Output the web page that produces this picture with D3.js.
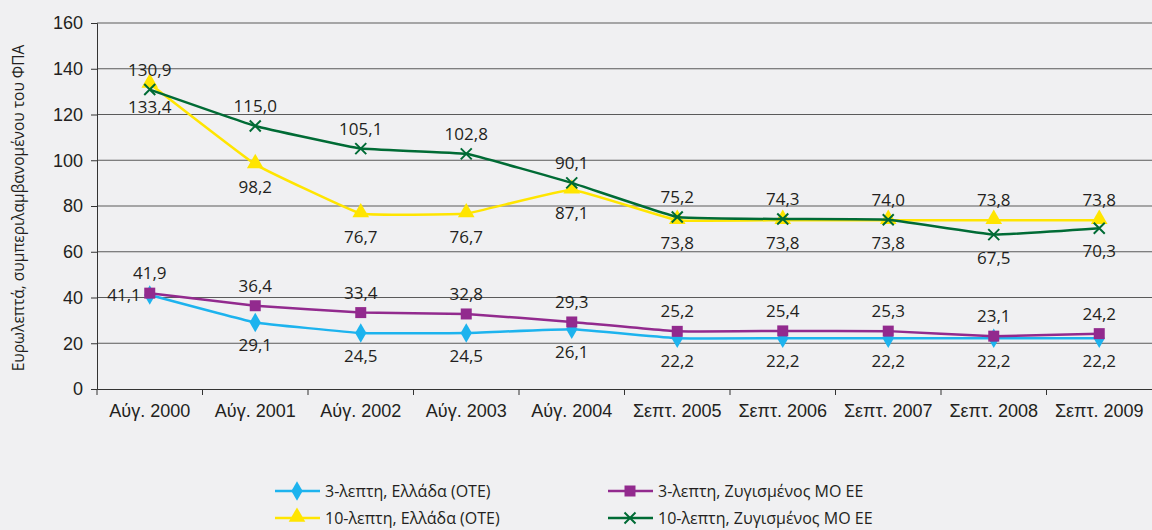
<!DOCTYPE html>
<html>
<head>
<meta charset="utf-8">
<script src="https://cdn.jsdelivr.net/npm/d3@7/dist/d3.min.js"></script>
<style>
  body { margin: 0; background: #f0f0f2; }
  svg { display: block; font-family: "Open Sans", sans-serif; }
</style>
</head>
<body>
<div id="chart"></div>
<script>
// categories and values
const categories = ["Αύγ. 2000", "Αύγ. 2001", "Αύγ. 2002", "Αύγ. 2003", "Αύγ. 2004",
  "Σεπτ. 2005", "Σεπτ. 2006", "Σεπτ. 2007", "Σεπτ. 2008", "Σεπτ. 2009"];
const ote3 = [41.1, 29.1, 24.5, 24.5, 26.1, 22.2, 22.2, 22.2, 22.2, 22.2];
const eu3 = [41.9, 36.4, 33.4, 32.8, 29.3, 25.2, 25.4, 25.3, 23.1, 24.2];
const ote10 = [133.4, 98.2, 76.7, 76.7, 87.1, 73.8, 73.8, 73.8, 73.8, 73.8];
const eu10 = [130.9, 115.0, 105.1, 102.8, 90.1, 75.2, 74.3, 74.0, 67.5, 70.3];
const yTicks = [0, 20, 40, 60, 80, 100, 120, 140, 160];
const yTitle = "Ευρωλεπτά, συμπεριλαμβανομένου του ΦΠΑ";

const series = [
  {name: "3-λεπτη, Ελλάδα (ΟΤΕ)", values: ote3, color: "#1db3ee", marker: "diamond"},
  {name: "3-λεπτη, Ζυγισμένος ΜΟ ΕΕ", values: eu3, color: "#922a8e", marker: "square"},
  {name: "10-λεπτη, Ελλάδα (ΟΤΕ)", values: ote10, color: "#ffe500", marker: "triangle"},
  {name: "10-λεπτη, Ζυγισμένος ΜΟ ΕΕ", values: eu10, color: "#006b35", marker: "cross"}
];

// where each value label sits relative to its point
function labelSide(s, i) {
  if (s === 0) return i === 0 ? "left" : "below";
  if (s === 1) return "above";
  if (s === 2) return i >= 8 ? "above" : "below";
  return i >= 8 ? "below" : "above";
}

const W = 1152, H = 530;
const margin = {top: 23, right: 0, bottom: 141, left: 97};

const svg = d3.select("#chart").append("svg")
  .attr("width", W).attr("height", H);

const x = d3.scaleBand().domain(categories).range([margin.left, W - margin.right]);
const y = d3.scaleLinear().domain([0, 160]).range([H - margin.bottom, margin.top]);
const fmt = v => d3.format(".1f")(v).replace(".", ",");

// gridlines
svg.append("g").selectAll("line").data(yTicks.filter(d => d > 0)).join("line")
  .attr("x1", margin.left).attr("x2", W)
  .attr("y1", d => y(d)).attr("y2", d => y(d))
  .attr("stroke", "#5a5a5a").attr("stroke-width", 1);

// y axis
const yAxis = svg.append("g")
  .attr("transform", "translate(" + margin.left + ",0)")
  .call(d3.axisLeft(y).tickValues(yTicks).tickSize(6).tickPadding(8));
yAxis.select(".domain").attr("stroke", "#333");
yAxis.selectAll(".tick line").attr("stroke", "#333");
yAxis.selectAll("text").style("font-size", "18px").attr("fill", "#231f20");

// x axis
const xAxis = svg.append("g")
  .attr("transform", "translate(0," + y(0) + ")")
  .call(d3.axisBottom(x).tickSize(0).tickPadding(15));
xAxis.select(".domain").attr("stroke", "#333");
xAxis.selectAll("text").style("font-size", "18px").attr("fill", "#231f20");
svg.append("g").selectAll("line").data(categories).join("line")
  .attr("x1", d => x(d)).attr("x2", d => x(d))
  .attr("y1", y(0)).attr("y2", y(0) + 6)
  .attr("stroke", "#333");

// y title
svg.append("text")
  .attr("transform", "translate(24," + ((y(0) + y(160)) / 2 + 2) + ") rotate(-90)")
  .attr("text-anchor", "middle")
  .style("font-size", "15.5px").attr("fill", "#231f20")
  .text(yTitle);

const cx = (d, i) => x(categories[i]) + x.bandwidth() / 2;

function drawMarker(g, type, color, px, py) {
  if (type === "diamond") {
    g.append("path").attr("d", d3.symbol(d3.symbolDiamond, 110)())
      .attr("transform", "translate(" + px + "," + py + ")").attr("fill", color);
  } else if (type === "square") {
    g.append("rect").attr("x", px - 5.5).attr("y", py - 5.5)
      .attr("width", 11).attr("height", 11).attr("fill", color);
  } else if (type === "triangle") {
    g.append("path").attr("d", d3.symbol(d3.symbolTriangle, 120)())
      .attr("transform", "translate(" + px + "," + (py - 1) + ")").attr("fill", color);
  } else {
    g.append("path").attr("d", "M-5.5,-5.5L5.5,5.5M-5.5,5.5L5.5,-5.5")
      .attr("transform", "translate(" + px + "," + py + ")")
      .attr("stroke", color).attr("stroke-width", 2).attr("fill", "none");
  }
}

// lines are only lightly smoothed in the original
const line = d3.line()
  .x(cx)
  .y(d => y(d))
  .curve(d3.curveCardinal.tension(0.75));

series.forEach((s, si) => {
  const g = svg.append("g");
  g.append("path").datum(s.values)
    .attr("d", line).attr("fill", "none")
    .attr("stroke", s.color).attr("stroke-width", 2.5);
  s.values.forEach((v, i) => drawMarker(g, s.marker, s.color, cx(v, i), y(v)));
});

// value labels
series.forEach((s, si) => {
  svg.append("g").selectAll("text").data(s.values).join("text")
    .attr("x", (d, i) => labelSide(si, i) === "left" ? cx(d, i) - 9 : cx(d, i))
    .attr("y", (d, i) => {
      const side = labelSide(si, i);
      if (side === "above") return y(d) - 14;
      if (side === "below") return y(d) + 29;
      return y(d) + 6;
    })
    .attr("text-anchor", (d, i) => labelSide(si, i) === "left" ? "end" : "middle")
    .style("font-size", "17px").attr("fill", "#231f20")
    .text(d => fmt(d));
});

// legend
const legendPos = [[275, 491], [608, 491], [275, 518], [608, 518]];
series.forEach((s, si) => {
  const [lx, ly] = legendPos[si];
  const g = svg.append("g");
  g.append("line").attr("x1", lx).attr("x2", lx + 45)
    .attr("y1", ly).attr("y2", ly)
    .attr("stroke", s.color).attr("stroke-width", 2.5);
  drawMarker(g, s.marker, s.color, lx + 22, ly);
  g.append("text").attr("x", lx + 50).attr("y", ly + 6)
    .style("font-size", "16px").attr("fill", "#231f20")
    .text(s.name);
});
</script>
</body>
</html>
